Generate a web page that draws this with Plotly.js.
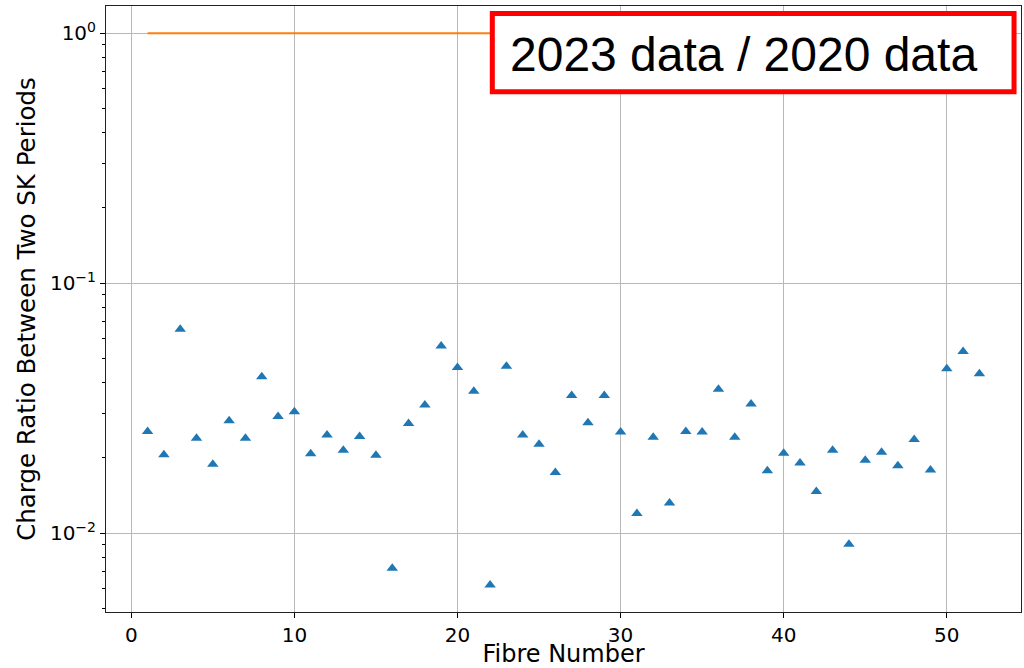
<!DOCTYPE html>
<html>
<head>
<meta charset="utf-8">
<script src="https://cdn.plot.ly/plotly-3.0.1.min.js"></script>
<style>html,body{margin:0;padding:0;background:#fff;}#chart{width:1024px;height:668px;}</style>
</head>
<body>
<div id="chart"></div>
<script>
const fibres = [1,2,3,4,5,6,7,8,9,10,11,12,13,14,15,16,17,18,19,20,21,22,23,24,25,26,27,28,29,30,31,32,33,34,35,36,37,38,39,40,41,42,43,44,45,46,47,48,49,50,51,52];
const chargeRatio = [0.0255, 0.0206, 0.0655, 0.0240, 0.0189, 0.0282, 0.0240, 0.0423, 0.0293, 0.0306,
  0.0208, 0.0247, 0.0215, 0.0244, 0.0205, 0.00724, 0.0275, 0.0326, 0.0561, 0.0460,
  0.0370, 0.00621, 0.0466, 0.0247, 0.0227, 0.0175, 0.0356, 0.0277, 0.0356, 0.0254,
  0.0120, 0.0242, 0.0132, 0.0255, 0.0254, 0.0377, 0.0242, 0.0329, 0.0178, 0.0209,
  0.0191, 0.0147, 0.0215, 0.00904, 0.0196, 0.0211, 0.0186, 0.0237, 0.0179, 0.0455, 0.0533, 0.0435];
const refLineX = [1, 52];
const refLineY = [1, 1];
const xTickVals = [0, 10, 20, 30, 40, 50];
const yTickVals = [0.01, 0.1, 1];
const yTickText = ['10<sup>\u22122</sup>', '10<sup>\u22121</sup>', '10<sup>0</sup>'];
const boxText = '2023 data / 2020 data';
const xTitle = 'Fibre Number';
const yTitle = 'Charge Ratio Between Two SK Periods';

const minorVals = [];
for (let e = -3; e <= 0; e++) {
  for (let k = 2; k <= 9; k++) minorVals.push(k * Math.pow(10, e));
}

const font = 'DejaVu Sans, sans-serif';

const traces = [
  {
    x: refLineX, y: refLineY, type: 'scatter', mode: 'lines',
    line: {color: '#ff7f0e', width: 2}, hoverinfo: 'skip', showlegend: false
  },
  {
    x: fibres, y: chargeRatio, type: 'scatter', mode: 'markers',
    marker: {symbol: 'triangle-up', size: 10, color: '#1f77b4'}, showlegend: false
  }
];

const layout = {
  width: 1024, height: 668,
  margin: {l: 106, r: 2.5, t: 6, b: 56, pad: 0},
  paper_bgcolor: '#fff', plot_bgcolor: '#fff',
  showlegend: false,
  font: {family: font, color: '#000', size: 20},
  xaxis: {
    range: [-1.55, 54.55], tickvals: xTickVals, ticks: 'outside', ticklen: 5, tickwidth: 1, tickcolor: '#000',
    showgrid: true, gridcolor: '#b8b8b8', gridwidth: 1, zeroline: false,
    showline: true, mirror: true, linecolor: '#222', linewidth: 1,
    tickfont: {family: font, size: 20, color: '#000'},
    title: {text: xTitle, font: {family: font, size: 24, color: '#000'}, standoff: 9},
    automargin: false
  },
  yaxis: {
    type: 'log', range: [-2.315, 0.109], tickvals: yTickVals, ticktext: yTickText,
    ticks: 'outside', ticklen: 5, tickwidth: 1, tickcolor: '#000',
    minor: {tickvals: minorVals, ticks: 'outside', ticklen: 3, tickwidth: 1, tickcolor: '#000', showgrid: false},
    showgrid: true, gridcolor: '#b8b8b8', gridwidth: 1, zeroline: false,
    showline: true, mirror: true, linecolor: '#222', linewidth: 1,
    tickfont: {family: font, size: 20, color: '#000'},
    title: {text: yTitle, font: {family: font, size: 24.5, color: '#000'}, standoff: 7},
    automargin: false
  },
  shapes: [{
    type: 'rect', xref: 'paper', yref: 'paper', layer: 'above',
    x0: 0.4222, x1: 0.9924, y0: 0.8583, y1: 0.9876,
    line: {color: '#ff0000', width: 5}, fillcolor: '#ffffff'
  }],
  annotations: [{
    xref: 'paper', yref: 'paper', x: 0.6969, y: 0.9200, xanchor: 'center', yanchor: 'middle',
    text: boxText, showarrow: false,
    font: {family: 'Liberation Sans, Arial, sans-serif', size: 48, color: '#000'}
  }]
};

Plotly.newPlot('chart', traces, layout, {displayModeBar: false, staticPlot: true});
</script>
</body>
</html>
